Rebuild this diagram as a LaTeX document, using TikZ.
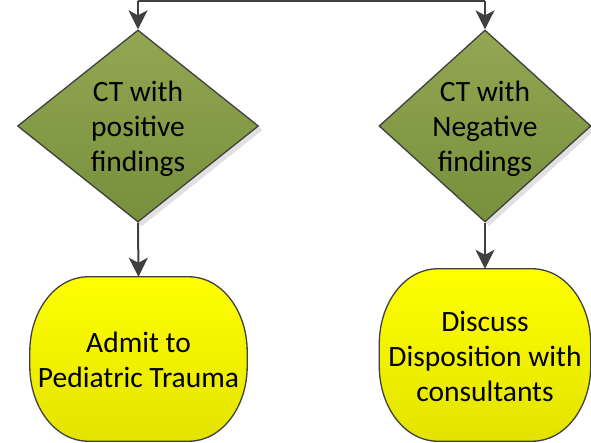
\documentclass[tikz,border=0pt]{standalone}
\usepackage{fontspec}
\setmainfont{Carlito}
\usetikzlibrary{shapes.geometric,arrows.meta,calc}
\definecolor{linec}{HTML}{404040}
\definecolor{olivetop}{HTML}{93A653}
\definecolor{olivebot}{HTML}{76903C}
\definecolor{yeltop}{HTML}{FFFF00}
\definecolor{yelbot}{HTML}{E3E300}
\tikzset{
  conn/.style={draw=linec, line width=2pt, -{Stealth[length=19pt,width=19pt,inset=5pt]}},
  plainline/.style={draw=linec, line width=2pt},
  decision/.style={diamond, draw=linec, line width=1.3pt, top color=olivetop, bottom color=olivebot, inner sep=0pt},
  dshadow/.style={diamond, fill=black, opacity=0.12, draw=none, inner sep=0pt},
  label/.style={font=\fontsize{29.5}{35}\selectfont, align=center, inner sep=0pt, text=black},
  holder/.style={draw=none, inner sep=0pt},
  boxfill/.style={draw=linec, line width=1.3pt, top color=yeltop, bottom color=yelbot},
  boxshadow/.style={fill=black, opacity=0.12, draw=none}
}
\begin{document}
\begin{tikzpicture}[x=1pt,y=1pt]
\useasboundingbox (0,0) rectangle (591,442);
% shadows for diamonds
\node[dshadow, minimum width=241pt, minimum height=192pt] at (142,312) {};
\node[dshadow, minimum width=212pt, minimum height=192pt] at (489,312) {};
% diamonds
\node[decision, minimum width=241pt, minimum height=192pt] (d1) at (138,316) {};
\node[decision, minimum width=212pt, minimum height=192pt] (d2) at (485,316) {};
\node[label] (t1) at ($(d1.center)+(0,-3)$) {CT with\\positive\\findings};
\node[label] (t2) at ($(d2.center)+(0,-3)$) {CT with\\Negative\\findings};
% box holders
\node[holder, minimum width=217pt, minimum height=164pt] (b1) at (138.5,83) {};
\node[holder, minimum width=211pt, minimum height=172pt] (b2) at (485,87) {};
% box shadows and boxes
\foreach \b in {b1,b2}{
\path[boxshadow, shift={(3,-3)}] ($(\b.north west)+(58,0)$) -- ($(\b.north east)+(-58,0)$)
  arc[start angle=90,end angle=0,x radius=58,y radius=75] -- ($(\b.south east)+(0,75)$)
  arc[start angle=0,end angle=-90,x radius=58,y radius=75] -- ($(\b.south west)+(58,0)$)
  arc[start angle=270,end angle=180,x radius=58,y radius=75] -- ($(\b.north west)+(0,-75)$)
  arc[start angle=180,end angle=90,x radius=58,y radius=75] -- cycle;
\path[boxfill] ($(\b.north west)+(58,0)$) -- ($(\b.north east)+(-58,0)$)
  arc[start angle=90,end angle=0,x radius=58,y radius=75] -- ($(\b.south east)+(0,75)$)
  arc[start angle=0,end angle=-90,x radius=58,y radius=75] -- ($(\b.south west)+(58,0)$)
  arc[start angle=270,end angle=180,x radius=58,y radius=75] -- ($(\b.north west)+(0,-75)$)
  arc[start angle=180,end angle=90,x radius=58,y radius=75] -- cycle;
}
\node[label] (t3) at ($(b1.center)+(0,-1)$) {Admit to\\Pediatric Trauma};
\node[label] (t4) at ($(b2.center)+(0,-1)$) {Discuss\\Disposition with\\consultants};
% top connectors
\coordinate (split) at (330,441);
\coordinate (stem) at (330,446);
\coordinate (lt) at (d1.north |- split);
\coordinate (rt) at (d2.north |- split);
\draw[plainline] (stem) -- (split);
\draw[plainline] (lt) -- (rt);
\draw[conn] (lt) -- (d1.north);
\draw[conn] (rt) -- (d2.north);
% lower connectors
\draw[conn] (d1.south) -- (b1.north);
\draw[conn] (d2.south) -- (b2.north);
\end{tikzpicture}
\end{document}
